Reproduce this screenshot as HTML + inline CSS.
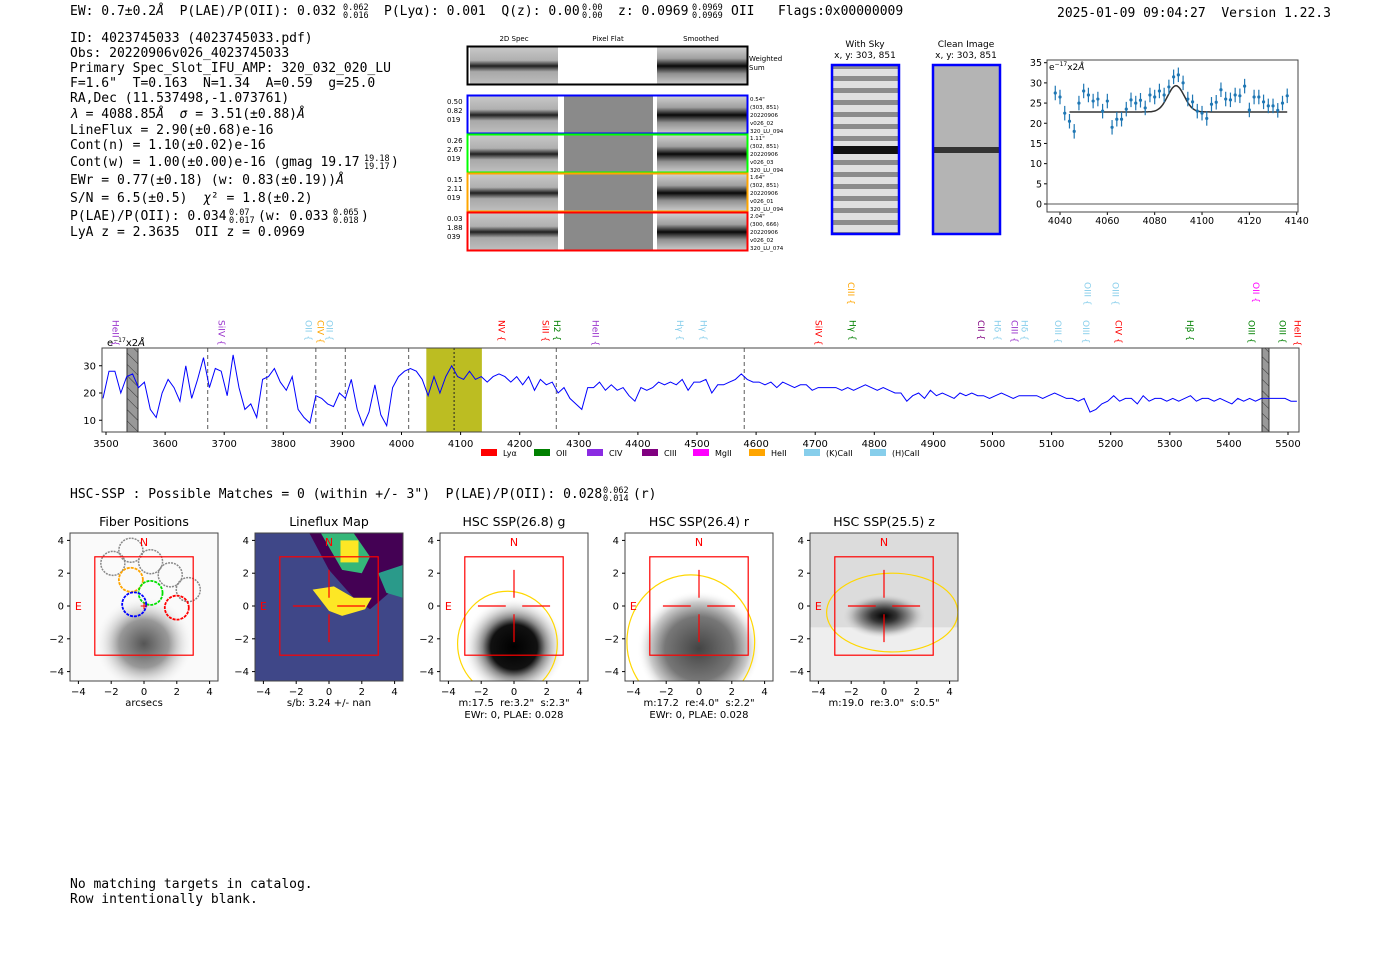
<!DOCTYPE html>
<html><head><meta charset="utf-8">
<style>
html,body{margin:0;padding:0;background:#fff;}
svg{display:block;}
text{white-space:pre;}
.mono{font-family:"DejaVu Sans Mono","Liberation Mono",monospace;font-size:13px;fill:#000;}
.mono.sup{font-size:8.5px;}
.sans{font-family:"DejaVu Sans","Liberation Sans",sans-serif;}
.tick{font-family:"DejaVu Sans","Liberation Sans",sans-serif;font-size:10px;fill:#000;}
.tiny{font-family:"DejaVu Sans","Liberation Sans",sans-serif;font-size:6px;fill:#000;}
</style></head>
<body>
<svg id="fig" width="1400" height="953" viewBox="0 0 1400 953" xmlns="http://www.w3.org/2000/svg" xml:space="preserve">
<defs>
<pattern id="hatch" width="8" height="8" patternUnits="userSpaceOnUse" patternTransform="rotate(-45)"><rect width="8" height="8" fill="#999"/><line x1="0" y1="0" x2="0" y2="8" stroke="#333" stroke-width="1"/></pattern>
<linearGradient id="band" x1="0" y1="0" x2="0" y2="1"><stop offset="0" stop-color="#c8c8c8"/><stop offset="0.35" stop-color="#b0b0b0"/><stop offset="0.5" stop-color="#202020"/><stop offset="0.65" stop-color="#a8a8a8"/><stop offset="1" stop-color="#c0c0c0"/></linearGradient>
<linearGradient id="bandS" x1="0" y1="0" x2="0" y2="1"><stop offset="0" stop-color="#d0d0d0"/><stop offset="0.3" stop-color="#a0a0a0"/><stop offset="0.5" stop-color="#080808"/><stop offset="0.7" stop-color="#909090"/><stop offset="1" stop-color="#d0d0d0"/></linearGradient>
<pattern id="sky" width="68" height="12" patternUnits="userSpaceOnUse"><rect width="68" height="12" fill="#e0e0e0"/><rect y="4" width="68" height="5" fill="#8c8c8c"/></pattern>
<radialGradient id="blob1" cx="0.5" cy="0.5" r="0.5"><stop offset="0" stop-color="#555"/><stop offset="0.5" stop-color="#999"/><stop offset="1" stop-color="#fff" stop-opacity="0"/></radialGradient>
<radialGradient id="blob3" cx="0.5" cy="0.5" r="0.5"><stop offset="0" stop-color="#000"/><stop offset="0.45" stop-color="#111"/><stop offset="0.6" stop-color="#888"/><stop offset="1" stop-color="#fff" stop-opacity="0"/></radialGradient>
<radialGradient id="blob4" cx="0.5" cy="0.5" r="0.5"><stop offset="0" stop-color="#444"/><stop offset="0.55" stop-color="#777"/><stop offset="0.8" stop-color="#ccc"/><stop offset="1" stop-color="#fff" stop-opacity="0"/></radialGradient>
<radialGradient id="blob5" cx="0.5" cy="0.5" r="0.5"><stop offset="0" stop-color="#000"/><stop offset="0.3" stop-color="#333"/><stop offset="0.7" stop-color="#aaa"/><stop offset="1" stop-color="#ddd" stop-opacity="0"/></radialGradient>
</defs>

<g>
<text class="mono" x="70" y="15">EW: 0.7±0.2<tspan font-style="italic">Å</tspan>  P(LAE)/P(OII): 0.032</text>
<text class="mono sup" x="343" y="10">0.062</text><text class="mono sup" x="343" y="18">0.016</text>
<text class="mono" x="384" y="15">P(Lyα): 0.001  Q(z): 0.00</text>
<text class="mono sup" x="582" y="10">0.00</text><text class="mono sup" x="582" y="18">0.00</text>
<text class="mono" x="618" y="15">z: 0.0969</text>
<text class="mono sup" x="692" y="10">0.0969</text><text class="mono sup" x="692" y="18">0.0969</text>
<text class="mono" x="731" y="15">OII   Flags:0x00000009</text>
<text class="mono" x="1057" y="17">2025-01-09 09:04:27  Version 1.22.3</text>
</g>

<g>
<text class="mono" x="70" y="42">ID: 4023745033 (4023745033.pdf)</text>
<text class="mono" x="70" y="57">Obs: 20220906v026_4023745033</text>
<text class="mono" x="70" y="72">Primary Spec_Slot_IFU_AMP: 320_032_020_LU</text>
<text class="mono" x="70" y="87">F=1.6"  T=0.163  N=1.34  A=0.59  g=25.0</text>
<text class="mono" x="70" y="102">RA,Dec (11.537498,-1.073761)</text>
<text class="mono" x="70" y="118"><tspan font-style="italic">λ</tspan> = 4088.85<tspan font-style="italic">Å</tspan>  <tspan font-style="italic">σ</tspan> = 3.51(±0.88)<tspan font-style="italic">Å</tspan></text>
<text class="mono" x="70" y="134">LineFlux = 2.90(±0.68)e-16</text>
<text class="mono" x="70" y="149">Cont(n) = 1.10(±0.02)e-16</text>
<text class="mono" x="70" y="166">Cont(w) = 1.00(±0.00)e-16 (gmag 19.17</text>
<text class="mono sup" x="364" y="161">19.18</text><text class="mono sup" x="364" y="169">19.17</text>
<text class="mono" x="391" y="166">)</text>
<text class="mono" x="70" y="184">EWr = 0.77(±0.18) (w: 0.83(±0.19))<tspan font-style="italic">Å</tspan></text>
<text class="mono" x="70" y="202">S/N = 6.5(±0.5)  <tspan font-style="italic">χ</tspan>² = 1.8(±0.2)</text>
<text class="mono" x="70" y="220">P(LAE)/P(OII): 0.034</text>
<text class="mono sup" x="229" y="215">0.07</text><text class="mono sup" x="229" y="223">0.017</text>
<text class="mono" x="258" y="220">(w: 0.033</text>
<text class="mono sup" x="333" y="215">0.065</text><text class="mono sup" x="333" y="223">0.018</text>
<text class="mono" x="361" y="220">)</text>
<text class="mono" x="70" y="236">LyA z = 2.3635  OII z = 0.0969</text>
</g>

<g id="spec2d">
<text class="tiny" x="514" y="41" text-anchor="middle" style="font-size:7px">2D Spec</text>
<text class="tiny" x="608" y="41" text-anchor="middle" style="font-size:7px">Pixel Flat</text>
<text class="tiny" x="701" y="41" text-anchor="middle" style="font-size:7px">Smoothed</text>
</g>

<g>
<text class="sans" x="865" y="47" font-size="9" text-anchor="middle">With Sky</text>
<text class="sans" x="865" y="58" font-size="9" text-anchor="middle">x, y: 303, 851</text>
<rect x="832" y="65" width="67" height="169" fill="url(#sky)"/>
<rect x="832" y="146" width="67" height="8" fill="#111"/>
<rect x="832" y="65" width="67" height="169" fill="none" stroke="#0000ff" stroke-width="2.5"/>
</g>
<g>
<text class="sans" x="966" y="47" font-size="9" text-anchor="middle">Clean Image</text>
<text class="sans" x="966" y="58" font-size="9" text-anchor="middle">x, y: 303, 851</text>
<rect x="933" y="65" width="67" height="169" fill="#b4b4b4"/>
<rect x="933" y="147" width="67" height="6" fill="#333"/>
<rect x="933" y="65" width="67" height="169" fill="none" stroke="#0000ff" stroke-width="2.5"/>
</g>

<g id="fitplot"></g>
<g id="specplot"></g>

<text class="mono" x="70" y="498">HSC-SSP : Possible Matches = 0 (within +/- 3")  P(LAE)/P(OII): 0.028</text>
<text class="mono sup" x="603" y="493">0.062</text><text class="mono sup" x="603" y="501">0.014</text>
<text class="mono" x="633" y="498">(r)</text>

<g id="cutouts"></g>

<text class="mono" x="70" y="888">No matching targets in catalog.</text>
<text class="mono" x="70" y="903">Row intentionally blank.</text>
</svg>

<script>
const specStart = 3495, specStep = 10;
const specFlux = [18,28,28,20,26,27,22,24,14,11,20,25,22,17,30,18,25,33,22,29,28,19,34,22,14,16,11,25,26,29,24,21,26,14,11,9,19,18,16,15,20,18,25,14,8,13,23,12,8,22,26,28,29,28,25,19,26,20,26,30,26,25,28,25,26,24,26,27,26,24,26,23,26,21,25,23,24,20,22,18,16,14,22,22,24,21,23,21,22,19,17,22,21,22,24,23,24,23,25,21,24,
24,25,20,23,23,24,25,27,25,24,24,23,24,22,24,23,22,23,23,21,22,22,22,22,21,22,21,22,23,22,21,22,21,20,20,17,19,20,18,21,19,20,19,18,20,19,20,19,19,18,19,20,19,18,19,19,19,19,18,19,20,19,18,18,17,18,13,14,16,17,19,17,18,18,16,19,17,18,18,17,18,17,18,19,17,18,18,17,18,17,16,18,17,18,17,18,18,18,18,18,17,17];
const specTicks = [3500,3600,3700,3800,3900,4000,4100,4200,4300,4400,4500,4600,4700,4800,4900,5000,5100,5200,5300,5400,5500];
const specYTicks = [10,20,30];
const dashedLines = [3672,3772,3855,3905,4012,4262,4580];
const fitCenter = 4089;
const lineLabels = [
 ["HeII",3515,"#9932cc",1],["SiIV",3695,"#9932cc",1],["OII",3842,"#87ceeb",1],["CIV",3862,"#ffa500",1],["OII",3877,"#87ceeb",1],
 ["NV",4168,"#ff0000",1],["SiII",4243,"#ff0000",1],["H2",4262,"#008000",1],["HeII",4327,"#9932cc",1],["Hγ",4470,"#87ceeb",1],["Hγ",4510,"#87ceeb",1],
 ["SiIV",4705,"#ff0000",1],["Hγ",4762,"#008000",1],["CIII",4760,"#ffa500",0],["CII",4980,"#800080",1],["Hδ",5008,"#87ceeb",1],["CIII",5036,"#9932cc",1],["Hδ",5053,"#87ceeb",1],
 ["OIII",5110,"#87ceeb",1],["OIII",5157,"#87ceeb",1],["OIII",5160,"#87ceeb",0],["OIII",5207,"#87ceeb",0],["CIV",5212,"#ff0000",1],["Hβ",5333,"#008000",1],
 ["OII",5445,"#ff00ff",0],["OIII",5437,"#008000",1],["OIII",5490,"#008000",1],["HeII",5515,"#ff0000",1]];
const legendNames = ["Lyα","OII","CIV","CIII","MgII","HeII","(K)CaII","(H)CaII"];
const legendColors = ["#ff0000","#008000","#8a2be2","#800080","#ff00ff","#ffa500","#87ceeb","#87ceeb"];

const fitWaveStart = 4038, fitWaveStep = 2;
const fitFlux = [27.5,26.5,22.5,20.5,18,25,28,27,25.5,26,23,25.5,19,21,21,23.5,25.8,25,25.7,23.8,27,26.5,28,27,29,31.5,32,30,26,25.3,23,22.5,21.2,24.7,25.2,28.3,26,25.8,27,26.8,29.2,23.3,26.5,26.5,25.3,24.3,24.3,23.2,25,26.8];
const fitErr = 1.8;
const fitCont = 22.8, fitAmp = 6.5, fitSigma = 3.5;
const fitXTicks = [4040,4060,4080,4100,4120,4140];
const fitYTicks = [0,5,10,15,20,25,30,35];

const cutTitles = ["Fiber Positions","Lineflux Map","HSC SSP(26.8) g","HSC SSP(26.4) r","HSC SSP(25.5) z"];
const cutNotes1 = ["arcsecs","s/b: 3.24 +/- nan","m:17.5  re:3.2\"  s:2.3\"","m:17.2  re:4.0\"  s:2.2\"","m:19.0  re:3.0\"  s:0.5\""];
const cutNotes2 = ["","","EWr: 0, PLAE: 0.028","EWr: 0, PLAE: 0.028",""];
const cutTicks = [-4,-2,0,2,4];

const NS="http://www.w3.org/2000/svg";
function mk(tag, attrs, parent){const e=document.createElementNS(NS,tag);let st='';for(const k in attrs){if(k==='font-size'){st+='font-size:'+attrs[k]+'px;';}else if(k==='style'){st+=attrs[k]+';';}else e.setAttribute(k,attrs[k]);}if(st)e.setAttribute('style',st);if(parent)parent.appendChild(e);return e;}

(function(){
 const g=document.getElementById('spec2d');
 const rows=[[47,38,"#000",null,null],[96,38,"#0000ff",["0.50","0.82","019"],["0.54\"","(303, 851)","20220906","v026_02","320_LU_094"]],
  [135,38,"#00ff00",["0.26","2.67","019"],["1.11\"","(302, 851)","20220906","v026_03","320_LU_094"]],
  [174,38,"#ffa500",["0.15","2.11","019"],["1.64\"","(302, 851)","20220906","v026_01","320_LU_094"]],
  [213,38,"#ff0000",["0.03","1.88","039"],["2.04\"","(300, 666)","20220906","v026_02","320_LU_074"]]];
 rows.forEach((r,i)=>{
  const y=r[0],h=r[1];
  const a=mk('rect',{x:470,y:y,width:88,height:h,fill:'url(#band)'},g);
  
  
  mk('rect',{x:564,y:y,width:89,height:h,fill:i==0?'#fff':'#8a8a8a'},g);
  mk('rect',{x:657,y:y,width:90,height:h,fill:'url(#bandS)'},g);
  mk('rect',{x:467.5,y:y-0.5,width:280,height:h,fill:'none',stroke:r[2],'stroke-width':2},g);
  if(r[3]) r[3].forEach((t,j)=>{const e=mk('text',{x:447,y:y+8+j*9,class:'tiny','font-size':'7'},g);e.textContent=t;});
  if(r[4]) r[4].forEach((t,j)=>{const e=mk('text',{x:750,y:y+5+j*8,class:'tiny','font-size':'5.5'},g);e.textContent=t;});
 });
 let e=mk('text',{x:749,y:61,class:'tiny','font-size':'7'},g);e.textContent='Weighted';
 e=mk('text',{x:749,y:70,class:'tiny','font-size':'7'},g);e.textContent='Sum';
})();

(function(){
 const g=document.getElementById('fitplot');
 const L=1047,R=1298,T=60,B=212;
 const fx=w=>1060+(w-4040)*2.367, fy=v=>204-v*4.037;
 mk('line',{x1:L,x2:R,y1:fy(0),y2:fy(0),stroke:'#777','stroke-width':1.2},g);
 fitYTicks.forEach(t=>{mk('line',{x1:L-3,x2:L,y1:fy(t),y2:fy(t),stroke:'#000'},g);const e=mk('text',{x:L-5,y:fy(t)+3.5,class:'tick','text-anchor':'end','font-size':'9.5'},g);e.textContent=t;});
 fitXTicks.forEach(t=>{mk('line',{x1:fx(t),x2:fx(t),y1:B,y2:B+3,stroke:'#000'},g);const e=mk('text',{x:fx(t),y:B+12,class:'tick','text-anchor':'middle','font-size':'9.5'},g);e.textContent=t;});
 let d='';
 for(let w=4044;w<=4136;w+=0.5){const v=fitCont+fitAmp*Math.exp(-0.5*Math.pow((w-fitCenter)/fitSigma,2));d+=(d?'L':'M')+fx(w).toFixed(1)+','+fy(v).toFixed(1);}
 const m=mk('path',{d:d,fill:'none',stroke:'#333','stroke-width':1.5},g);
 
 
 fitFlux.forEach((v,i)=>{
  const x=fx(fitWaveStart+i*fitWaveStep);
  mk('line',{x1:x,x2:x,y1:fy(v-fitErr),y2:fy(v+fitErr),stroke:'#1f77b4','stroke-width':1.2},g);
  const c=mk('circle',{cx:x,cy:fy(v),r:1.6,fill:'#1f77b4'},g);
  
  
 });
 mk('rect',{x:L,y:T,width:R-L,height:B-T,fill:'none',stroke:'#444'},g);
 const e=mk('text',{x:L+2,y:T+10,class:'tick','font-size':'9'},g);e.innerHTML='e<tspan font-size="6" dy="-4">−17</tspan><tspan dy="4">x2</tspan><tspan font-style="italic">Å</tspan>';
})();

(function(){
 const g=document.getElementById('specplot');
 const L=102,R=1299,T=348,B=432;
 const sx=w=>106+(w-3500)*0.591, sy=v=>393-(v-20)*2.725;
 const bnd=mk('rect',{x:sx(fitCenter-47),y:T,width:sx(fitCenter+47)-sx(fitCenter-47),height:B-T,fill:'#bcbd22'},g);
 
 
 mk('rect',{x:127,y:T,width:11,height:B-T,fill:'url(#hatch)',stroke:'#333'},g);
 mk('rect',{x:1262,y:T,width:7,height:B-T,fill:'url(#hatch)',stroke:'#333'},g);
 dashedLines.forEach(w=>mk('line',{x1:sx(w),x2:sx(w),y1:T,y2:B,stroke:'#777','stroke-dasharray':'4,3','stroke-width':1.2},g));
 mk('line',{x1:sx(fitCenter),x2:sx(fitCenter),y1:T,y2:B,stroke:'#222','stroke-dasharray':'2,2'},g);
 let d='';
 specFlux.forEach((v,i)=>{d+=(i?'L':'M')+sx(specStart+i*specStep).toFixed(1)+','+sy(v).toFixed(1);});
 const p=mk('path',{d:d,fill:'none',stroke:'#0000ff','stroke-width':1},g);
 
 
 mk('rect',{x:L,y:T,width:R-L,height:B-T,fill:'none',stroke:'#444'},g);
 specYTicks.forEach(t=>{mk('line',{x1:L-3,x2:L,y1:sy(t),y2:sy(t),stroke:'#000'},g);const e=mk('text',{x:L-6,y:sy(t)+3.5,class:'tick','text-anchor':'end'},g);e.textContent=t;});
 specTicks.forEach(t=>{mk('line',{x1:sx(t),x2:sx(t),y1:B,y2:B+3,stroke:'#000'},g);const e=mk('text',{x:sx(t),y:B+15,class:'tick','text-anchor':'middle'},g);e.textContent=t;});
 const u=mk('text',{x:107,y:346,class:'tick'},g);u.innerHTML='e<tspan font-size="6" dy="-4">−17</tspan><tspan dy="4">x2</tspan><tspan font-style="italic">Å</tspan>';
 lineLabels.forEach(l=>{
  const x=sx(l[1]), y=l[3]?320:282;
  const t=mk('text',{x:x,y:y,class:'tick',style:'fill:'+l[2],transform:`rotate(90 ${x} ${y})`,'font-size':'9','dominant-baseline':'middle'},g);
  t.textContent=l[0]+' {';
  
  
 });
 const lx=[481,534,587,642,693,749,804,870];
 legendNames.forEach((n,i)=>{
  const r=mk('rect',{x:lx[i],y:449,width:16,height:7,fill:legendColors[i]},g);
  
  
  const e=mk('text',{x:lx[i]+22,y:456,class:'tick','font-size':'8'},g);e.textContent=n;
 });
})();

(function(){
 const g=document.getElementById('cutouts');
 const lefts=[70,255,440,625,810], T=533, S=148, k=16.4;
 lefts.forEach((L,i)=>{
  const cx=L+S/2, X=u=>cx+u*k, Y=v=>606-v*k;
  const pg=mk('g',{},g);
  
  
  const clip=mk('clipPath',{id:'cp'+i},pg);mk('rect',{x:L,y:T,width:S,height:S},clip);
  const ig=mk('g',{'clip-path':`url(#cp${i})`},pg);
  if(i==0){mk('rect',{x:L,y:T,width:S,height:S,fill:'#fafafa'},ig);mk('ellipse',{cx:X(0),cy:Y(-2.3),rx:50,ry:48,fill:'url(#blob1)'},ig);}
  if(i==1){
   mk('rect',{x:L,y:T,width:S,height:S,fill:'#3f4788'},ig);
   mk('polygon',{points:`${X(-1.2)},${T} ${X(4.5)},${T} ${X(4.5)},${Y(1.5)} ${X(2.5)},${Y(-0.2)} ${X(1.5)},${Y(0.5)} ${X(0)},${Y(2.2)}`,fill:'#440154'},ig);
   mk('polygon',{points:`${X(-0.5)},${T} ${X(1.5)},${T} ${X(2.5)},${Y(3)} ${X(2)},${Y(2)} ${X(0.8)},${Y(2.2)}`,fill:'#35b779'},ig);
   mk('rect',{x:X(0.7),y:Y(4),width:18,height:22,fill:'#fde725'},ig);
   mk('polygon',{points:`${X(-1)},${Y(1)} ${X(0.3)},${Y(1.2)} ${X(1.5)},${Y(0.5)} ${X(2.6)},${Y(0.5)} ${X(2.2)},${Y(-0.2)} ${X(0.8)},${Y(-0.6)} ${X(0)},${Y(-0.3)}`,fill:'#fde725'},ig);
   mk('polygon',{points:`${X(3)},${Y(2)} ${X(4.5)},${Y(2.5)} ${X(4.5)},${Y(0.5)} ${X(3.5)},${Y(0.8)}`,fill:'#2a9a8a'},ig);
  }
  if(i==2){mk('rect',{x:L,y:T,width:S,height:S,fill:'#fff'},ig);mk('ellipse',{cx:X(0),cy:Y(-2.5),rx:52,ry:50,fill:'url(#blob3)'},ig);}
  if(i==3){mk('rect',{x:L,y:T,width:S,height:S,fill:'#fff'},ig);mk('ellipse',{cx:X(0),cy:Y(-2.6),rx:62,ry:58,fill:'url(#blob4)'},ig);}
  if(i==4){mk('rect',{x:L,y:T,width:S,height:S,fill:'#dcdcdc'},ig);mk('rect',{x:L,y:Y(-1.3),width:S,height:S,fill:'#eeeeee'},ig);mk('ellipse',{cx:X(0),cy:Y(-0.6),rx:42,ry:22,fill:'url(#blob5)'},ig);}
  if(i>=2){const el=[[-0.4,-2.3,3.2,3.2],[-0.5,-2.2,4.1,4.1],[0.5,-0.4,4,2.4]][i-2];
   mk('ellipse',{cx:X(el[0]),cy:Y(el[1]),rx:el[2]*k*(i==4?1:0.95),ry:el[3]*k,fill:'none',stroke:'#ffd700','stroke-width':1.2},ig);}
  if(i==0){
   [[-1.9,2.6],[-0.8,3.4],[0.4,2.7],[1.6,1.9],[2.7,1.0]].forEach(c=>mk('circle',{cx:X(c[0]),cy:Y(c[1]),r:12,fill:'none',stroke:'#888','stroke-dasharray':'2,1','stroke-width':1.5},ig));
   [[-0.8,1.6,'#ffa500'],[0.4,0.8,'#00e000'],[-0.6,0.1,'#0000ff'],[2.0,-0.1,'#ff0000']].forEach(c=>mk('circle',{cx:X(c[0]),cy:Y(c[1]),r:12,fill:'none',stroke:c[2],'stroke-dasharray':'3,1','stroke-width':1.8},ig));
  }
  mk('rect',{x:X(-3),y:Y(3),width:6*k,height:6*k,fill:'none',stroke:'#ff0000','stroke-width':1.2},pg);
  if(i==0){mk('path',{d:`M${X(-0.2)},${Y(0)}h${0.4*k}M${X(0)},${Y(0.2)}v${0.4*k}`,stroke:'#f00'},pg);}
  else {mk('path',{d:`M${X(-2.2)},${Y(0)}H${X(-0.5)}M${X(0.5)},${Y(0)}H${X(2.2)}M${X(0)},${Y(2.2)}V${Y(0.5)}M${X(0)},${Y(-0.5)}V${Y(-2.2)}`,stroke:'#f00','stroke-width':1.2},pg);}
  const n=mk('text',{x:X(0),y:Y(3.9)+4,class:'tick',style:'fill:#ff0000','text-anchor':'middle','font-size':'11'},pg);n.textContent='N';
  const e=mk('text',{x:X(-4),y:Y(0)+4,class:'tick',style:'fill:#ff0000','text-anchor':'middle','font-size':'11'},pg);e.textContent='E';
  mk('rect',{x:L,y:T,width:S,height:S,fill:'none',stroke:'#444'},pg);
  cutTicks.forEach(t=>{
   mk('line',{x1:L-3,x2:L,y1:Y(t),y2:Y(t),stroke:'#000'},pg);
   let a=mk('text',{x:L-6,y:Y(t)+3.5,class:'tick','text-anchor':'end'},pg);a.textContent=t<0?'−'+(-t):t;
   mk('line',{x1:X(t),x2:X(t),y1:T+S,y2:T+S+3,stroke:'#000'},pg);
   a=mk('text',{x:X(t),y:T+S+14,class:'tick','text-anchor':'middle'},pg);a.textContent=t<0?'−'+(-t):t;
  });
  let a=mk('text',{x:cx,y:T-7,class:'sans','font-size':'12.5','text-anchor':'middle'},pg);a.textContent=cutTitles[i];
  a=mk('text',{x:cx,y:T+S+25,class:'tick','text-anchor':'middle'},pg);a.textContent=cutNotes1[i];
  if(cutNotes2[i]){a=mk('text',{x:cx,y:T+S+37,class:'tick','text-anchor':'middle'},pg);a.textContent=cutNotes2[i];}
 });
})();
</script>
</body></html>
